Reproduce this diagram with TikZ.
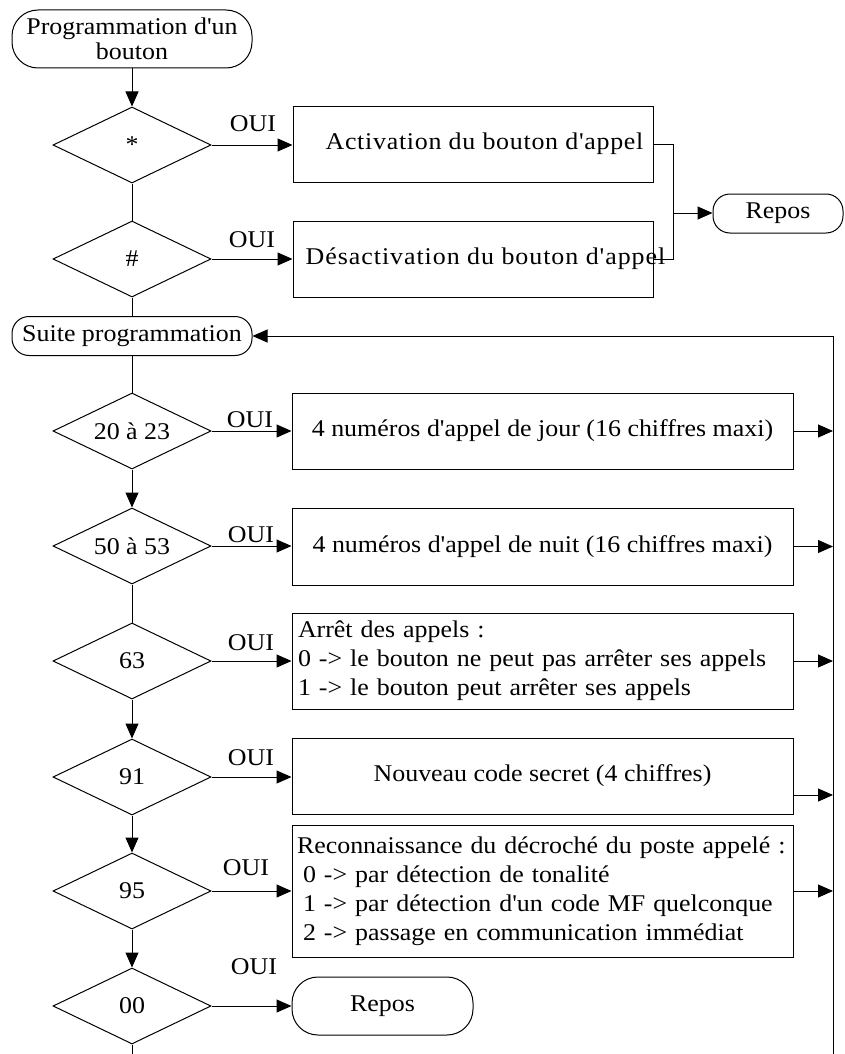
\documentclass[tikz,border=0pt]{standalone}
\usepackage{fontspec}
\setmainfont{Liberation Serif}[FakeStretch=1.08, Ligatures=TeXOff]
\usetikzlibrary{shapes.geometric,arrows.meta}
\begin{document}
\begin{tikzpicture}[x=1pt,y=-1pt,
  every node/.style={font=\fontsize{24}{29}\selectfont, inner sep=3pt},
  line/.style={draw=black, line width=1pt},
  arr/.style={line, -{Triangle[length=15pt,width=13pt]}},
  term/.style={draw, line width=1pt, rounded corners=17pt},
  bigterm/.style={draw, line width=1pt, rounded corners=26pt},
  dia/.style={diamond, draw, line width=1pt, minimum width=158pt, minimum height=76pt, inner sep=0pt, aspect=2.08},
  box/.style={draw, line width=1pt, rectangle},
  oui/.style={inner sep=0pt}]
\useasboundingbox (0,0) rectangle (844,1054);

% top part
\node[bigterm, minimum width=240pt, minimum height=58pt, align=center, inner sep=1pt, font=\fontsize{24}{25}\selectfont] (prog) at (132,39) {Programmation d'un\\bouton};
\node[dia] (d1) at (132,145) {*};
\node[dia] (d2) at (132,259) {\#};
\node[box, minimum width=360pt, minimum height=75pt] (act) at (473,144.5) {};
\node (actt) at (484.5,144) {\addfontfeature{LetterSpace=3}Activation du bouton d'appel};
\node[box, minimum width=360pt, minimum height=76pt] (desact) at (473,259.5) {};
\node (desactt) at (485.5,259) {\addfontfeature{LetterSpace=4}Désactivation du bouton d'appel};
\node[term, minimum width=130pt, minimum height=39pt] (repos1) at (778,213.5) {Repos};
\node[oui] (o1) at (253,124) {OUI};
\node[oui] (o2) at (252,240) {OUI};

% second part
\node[term, minimum width=240pt, minimum height=39pt, inner sep=1pt] (suite) at (132,336) {Suite programmation};
\node[dia] (d3) at (132,431) {20 à 23};
\node[dia] (d4) at (132,546) {50 à 53};
\node[dia] (d5) at (132,661) {63};
\node[dia] (d6) at (132,777) {91};
\node[dia] (d7) at (132,891) {95};
\node[dia] (d8) at (132,1006) {00};

\node[box, minimum width=501pt, minimum height=76pt] (jour) at (542.5,431) {4 numéros d'appel de jour (16 chiffres maxi)};
\node[box, minimum width=501pt, minimum height=77pt] (nuit) at (542.5,546.5) {4 numéros d'appel de nuit (16 chiffres maxi)};
\node[box, minimum width=501pt, minimum height=96pt, text width=489pt, inner xsep=6pt, align=left] (arret) at (542.5,661) {Arrêt des appels :\\0 -> le bouton ne peut pas arrêter ses appels\\1 -> le bouton peut arrêter ses appels};
\node[box, minimum width=501pt, minimum height=76pt] (code) at (542.5,776) {Nouveau code secret (4 chiffres)};
\node[box, minimum width=501pt, minimum height=132pt, text width=491pt, inner xsep=5pt, align=left] (recon) at (542.5,891) {Reconnaissance du décroché du poste appelé :\\\hspace*{6pt}0 -> par détection de tonalité\\\hspace*{6pt}1 -> par détection d'un code MF quelconque\\\hspace*{6pt}2 -> passage en communication immédiat};
\node[bigterm, minimum width=181pt, minimum height=58pt] (repos2) at (382.5,1006) {Repos};

\node[oui] (o3) at (250,420) {OUI};
\node[oui] (o4) at (251,535) {OUI};
\node[oui] (o5) at (251,643) {OUI};
\node[oui] (o6) at (251,758) {OUI};
\node[oui] (o7) at (246,868) {OUI};
\node[oui] (o8) at (254,967) {OUI};

% connectors top
\draw[arr] (prog.south) -- (d1.north);
\draw[arr] (d1.east) -- (d1.east -| act.west);
\draw[line] (d1.south) -- (d2.north);
\draw[arr] (d2.east) -- (d2.east -| desact.west);
\coordinate (jx) at (673,213);
\draw[line] (act.east) -| (jx) |- (desact.east);
\draw[arr] (jx) -- (jx -| repos1.west);
\draw[line] (d2.south) -- (suite.north);

% connectors main chain
\draw[line] (suite.south) -- (d3.north);
\draw[arr] (d3.east) -- (d3.east -| jour.west);
\draw[arr] (d3.south) -- (d4.north);
\draw[arr] (d4.east) -- (d4.east -| nuit.west);
\draw[line] (d4.south) -- (d5.north);
\draw[arr] (d5.east) -- (d5.east -| arret.west);
\draw[arr] (d5.south) -- (d6.north);
\draw[arr] (d6.east) -- (d6.east -| code.west);
\draw[arr] (d6.south) -- (d7.north);
\draw[arr] (d7.east) -- (d7.east -| recon.west);
\draw[arr] (d7.south) -- (d8.north);
\draw[arr] (d8.east) -- (d8.east -| repos2.west);
\coordinate (bot) at (132,1054);
\draw[line] (d8.south) -- (bot);

% return line
\coordinate (rb) at (833,1054);
\coordinate (rt) at (833,336);
\draw[arr] (rb) -- (rt) -- (suite.east);
\draw[arr] (jour.east) -- (jour.east -| rt);
\draw[arr] (nuit.east) -- (nuit.east -| rt);
\draw[arr] (arret.east) -- (arret.east -| rt);
\coordinate (cx) at ([yshift=-19pt]code.east);
\draw[arr] (cx) -- (cx -| rt);
\draw[arr] (recon.east) -- (recon.east -| rt);
\end{tikzpicture}
\end{document}
